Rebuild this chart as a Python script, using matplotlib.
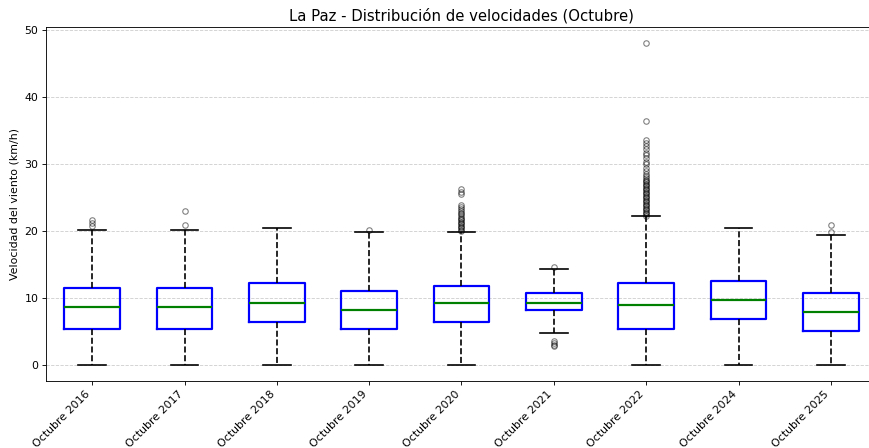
import matplotlib
matplotlib.use("Agg")
from matplotlib import pyplot as plt

labels = ["Octubre 2016", "Octubre 2017", "Octubre 2018", "Octubre 2019",
          "Octubre 2020", "Octubre 2021", "Octubre 2022", "Octubre 2024",
          "Octubre 2025"]

q1 = [5.4, 5.4, 6.4, 5.3, 6.4, 8.2, 5.4, 6.8, 5.0]
medians = [8.6, 8.6, 9.3, 8.2, 9.3, 9.3, 8.9, 9.7, 7.9]
q3 = [11.5, 11.5, 12.2, 11.1, 11.8, 10.8, 12.2, 12.6, 10.8]
whis_low = [0.0, 0.0, 0.0, 0.0, 0.0, 4.7, 0.0, 0.0, 0.0]
whis_high = [20.2, 20.2, 20.5, 19.8, 19.8, 14.4, 22.2, 20.5, 19.4]

fliers_2016 = [20.8, 21.2, 21.6]
fliers_2017 = [20.9, 23.0]
fliers_2018 = []
fliers_2019 = [20.2]
fliers_2020 = [20.0, 20.2, 20.4, 20.6, 20.8, 21.0, 21.2, 21.4, 21.6, 21.8,
               22.0, 22.3, 22.5, 22.7, 23.0, 23.3, 23.6, 23.9,
               25.5, 25.9, 26.3]
fliers_2021 = [14.7, 3.5, 3.2, 3.0, 2.9]
fliers_2022 = [22.3, 22.5, 22.7, 22.9, 23.1, 23.3, 23.5, 23.7, 23.9, 24.1,
               24.3, 24.5, 24.7, 24.9, 25.1, 25.3, 25.5, 25.7, 25.9, 26.1,
               26.3, 26.5, 26.7, 26.9, 27.1, 27.3, 27.5, 27.7, 28.0, 28.2,
               28.6, 29.0, 29.5, 30.0, 30.4, 30.9, 31.3, 31.7, 32.2, 32.7,
               33.1, 33.6, 36.5, 48.1]
fliers_2024 = []
fliers_2025 = [19.8, 20.9]
fliers = [fliers_2016, fliers_2017, fliers_2018, fliers_2019, fliers_2020,
          fliers_2021, fliers_2022, fliers_2024, fliers_2025]

stats = []
for i in range(len(labels)):
    stats.append({"label": labels[i], "q1": q1[i], "med": medians[i],
                  "q3": q3[i], "whislo": whis_low[i], "whishi": whis_high[i],
                  "fliers": fliers[i]})

fig = plt.figure(figsize=(869 / 79, 448 / 79), dpi=79)
ax = fig.add_axes([46 / 869, 1 - 381 / 448, 831 / 869, 354 / 448])

ax.bxp(stats, widths=0.6,
       boxprops=dict(color="blue", linewidth=2),
       medianprops=dict(color="green", linewidth=2),
       whiskerprops=dict(color="black", linestyle="--", linewidth=1.5),
       capprops=dict(color="black", linewidth=1.5),
       flierprops=dict(marker="o", markerfacecolor="none",
                       markeredgecolor="black", markersize=5, alpha=0.5))

ax.set_title("La Paz - Distribución de velocidades (Octubre)", fontsize=13.5)
ax.set_ylabel("Velocidad del viento (km/h)")
ax.grid(axis="y", linestyle="--", alpha=0.6)
plt.setp(ax.get_xticklabels(), rotation=45, ha="right")

fig.savefig("out.png", dpi=79)
